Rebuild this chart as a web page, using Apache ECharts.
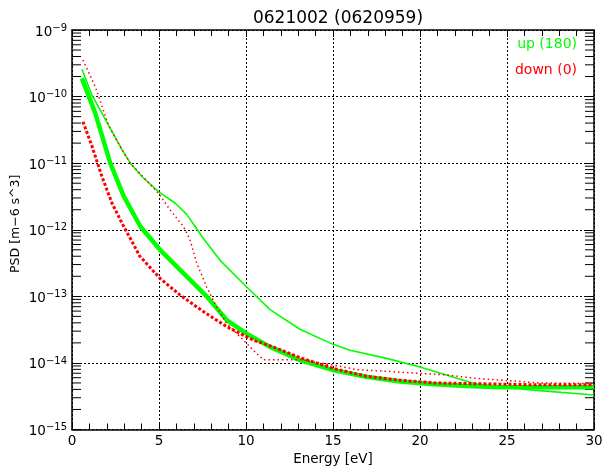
<!DOCTYPE html>
<html>
<head>
<meta charset="utf-8">
<script src="https://cdn.jsdelivr.net/npm/echarts@6/dist/echarts.min.js"></script>
<style>
  html, body { margin: 0; padding: 0; background: #fff; }
  #chart { width: 602px; height: 468px; }
</style>
</head>
<body>
<div id="chart"></div>
<script>
// Phase space density spectra, up (180) and down (0) directions
const titleText = '0621002 (0620959)';
const xName = 'Energy [eV]';
const yName = 'PSD [m\u22126 s^3]';
const upLabel = 'up (180)';
const downLabel = 'down (0)';

const xTicks = [0, 5, 10, 15, 20, 25, 30];
const yDecades = [-15, -14, -13, -12, -11, -10, -9];

// up (180), thick curve
const upThickE = [0.57, 1.34, 2.2, 2.97, 3.93, 5.06, 6.21, 7.74, 8.89, 10.04, 11.38, 13.1, 15.0, 16.9, 18.85, 20.8, 22.7, 24.6, 26.5, 30];
const upThickPsd = [1.88e-10, 5.6e-11, 1.0e-11, 3.2e-12, 1.12e-12, 5.0e-13, 2.5e-13, 1.0e-13, 4.4e-14, 2.75e-14, 1.74e-14, 1.1e-14, 7.8e-15, 6.2e-15, 5.25e-15, 4.8e-15, 4.5e-15, 4.3e-15, 4.3e-15, 4.3e-15];

// up (180), thin curve
const upThinE = [0.57, 1.15, 1.92, 2.87, 3.35, 4.02, 4.98, 5.94, 6.59, 7.1, 7.55, 8.5, 10.04, 11.38, 13.1, 15.0, 15.98, 18.08, 20.0, 23.26, 26.5, 30];
const upThinPsd = [2.57e-10, 1.05e-10, 4.5e-11, 1.6e-11, 1.0e-11, 6.3e-12, 3.7e-12, 2.5e-12, 1.7e-12, 1.1e-12, 7.4e-13, 3.5e-13, 1.38e-13, 6.3e-14, 3.2e-14, 1.9e-14, 1.55e-14, 1.17e-14, 8.7e-15, 4.8e-15, 3.9e-15, 3.3e-15];

// down (0), thick curve
const downThickE = [0.63, 1.15, 1.72, 2.3, 2.87, 3.9, 5.06, 6.2, 7.55, 8.89, 10.42, 11.76, 13.1, 15.0, 16.9, 18.85, 20.8, 22.7, 24.6, 26.5, 30];
const downThickPsd = [4.2e-11, 1.8e-11, 6.3e-12, 2.5e-12, 1.26e-12, 4.0e-13, 1.86e-13, 1.05e-13, 5.9e-14, 3.5e-14, 2.2e-14, 1.66e-14, 1.2e-14, 8.3e-15, 6.3e-15, 5.5e-15, 5.0e-15, 4.9e-15, 4.8e-15, 4.7e-15, 4.7e-15];

// down (0), thin curve
const downThinE = [0.63, 1.34, 2.1, 2.87, 3.35, 4.98, 5.63, 6.4, 6.78, 7.16, 7.74, 8.31, 8.89, 9.85, 10.42, 10.99, 13.1, 15.0, 16.4, 18.3, 21.5, 23.1, 26.9, 30];
const downThinPsd = [3.55e-10, 1.4e-10, 3.7e-11, 1.6e-11, 1.0e-11, 3.5e-12, 2.0e-12, 1.12e-12, 7.1e-13, 3.2e-13, 1.38e-13, 6.9e-14, 3.9e-14, 2.2e-14, 1.55e-14, 1.12e-14, 1.12e-14, 9.3e-15, 7.9e-15, 7.4e-15, 6.6e-15, 5.9e-15, 5.0e-15, 4.9e-15];

const GREEN = '#00ff00';
const RED = '#ff0000';
const FONT = 'DejaVu Sans';

const pairs = (xs, ys) => xs.map((x, i) => [x, ys[i]]);

const chart = echarts.init(document.getElementById('chart'), null, { renderer: 'canvas' });

const xMin = xTicks[0], xMax = xTicks[xTicks.length - 1];
const yMin = Math.pow(10, yDecades[0]), yMax = Math.pow(10, yDecades[yDecades.length - 1]);

// log minor ticks (2..9 within each decade) on the left and right frame
function minorTickRender(params, api) {
  const children = [];
  const len = 9;
  for (let d = yDecades[0]; d < yDecades[yDecades.length - 1]; d++) {
    for (let k = 2; k <= 9; k++) {
      const v = k * Math.pow(10, d);
      const pl = api.coord([xMin, v]);
      const pr = api.coord([xMax, v]);
      children.push({ type: 'line', shape: { x1: pl[0], y1: pl[1], x2: pl[0] + len, y2: pl[1] }, style: { stroke: '#000', lineWidth: 1 } });
      children.push({ type: 'line', shape: { x1: pr[0] - len, y1: pr[1], x2: pr[0], y2: pr[1] }, style: { stroke: '#000', lineWidth: 1 } });
    }
  }
  return { type: 'group', children: children };
}

const xAxisBase = {
  type: 'value',
  min: xMin,
  max: xMax,
  interval: 5,
  axisLine: { show: true, onZero: false, lineStyle: { color: '#000', width: 1.5 } },
  axisTick: { show: true, inside: true, length: 7, lineStyle: { color: '#000', width: 1 } },
  minorTick: { show: true, splitNumber: 5, length: 6, lineStyle: { color: '#000', width: 1 } },
  splitLine: { show: false }
};

const option = {
  animation: false,
  backgroundColor: '#fff',
  title: {
    text: titleText,
    left: 333,
    textAlign: 'center',
    top: 5,
    textStyle: { fontFamily: FONT, fontSize: 17, fontWeight: 'normal', color: '#000' }
  },
  grid: { left: 72, right: 8, top: 30, bottom: 38.5, containLabel: false, outerBoundsMode: 'none' },
  xAxis: [
    Object.assign({}, xAxisBase, {
      position: 'bottom',
      name: xName,
      nameLocation: 'middle',
      nameGap: 23,
      nameMoveOverlap: false,
      nameTextStyle: { fontFamily: FONT, fontSize: 13.5, color: '#000' },
      axisLabel: { show: true, fontFamily: FONT, fontSize: 13.5, color: '#000', margin: 5 },
      splitLine: { show: true, lineStyle: { color: '#000', type: [2, 2], width: 1 } }
    }),
    Object.assign({}, xAxisBase, {
      position: 'top',
      axisLabel: { show: false }
    })
  ],
  yAxis: [
    {
      type: 'log',
      logBase: 10,
      min: yMin,
      max: yMax,
      position: 'left',
      name: yName,
      nameLocation: 'middle',
      nameRotate: 90,
      nameGap: 50,
      nameMoveOverlap: false,
      nameTextStyle: { fontFamily: FONT, fontSize: 12.5, color: '#000', padding: [0, 0, 0, 12] },
      axisLine: { show: true, onZero: false, lineStyle: { color: '#000', width: 1.5 } },
      axisTick: { show: true, inside: true, length: 9, lineStyle: { color: '#000', width: 1 } },
      splitLine: { show: true, lineStyle: { color: '#000', type: [2, 2], width: 1 } },
      axisLabel: {
        show: true,
        margin: 5,
        formatter: function (v) {
          const e = Math.round(Math.log10(v));
          return '{b|10}{s|' + (e < 0 ? '\u2212' + (-e) : e) + '}';
        },
        rich: {
          b: { fontFamily: FONT, fontSize: 13.5, color: '#000', padding: [4, 0, 0, 0] },
          s: { fontFamily: FONT, fontSize: 10, color: '#000', padding: [0, 0, 4, 0] }
        }
      }
    },
    {
      type: 'log',
      logBase: 10,
      min: yMin,
      max: yMax,
      position: 'right',
      axisLine: { show: true, onZero: false, lineStyle: { color: '#000', width: 1.5 } },
      axisTick: { show: true, inside: true, length: 9, lineStyle: { color: '#000', width: 1 } },
      axisLabel: { show: false },
      splitLine: { show: false }
    }
  ],
  graphic: [
    {
      type: 'text', right: 25, top: 37,
      style: { text: upLabel, fill: GREEN, font: '14px "' + FONT + '"', textAlign: 'right' }
    },
    {
      type: 'text', right: 25, top: 63,
      style: { text: downLabel, fill: RED, font: '14px "' + FONT + '"', textAlign: 'right' }
    }
  ],
  series: [
    {
      type: 'custom',
      name: 'minorTicks',
      xAxisIndex: 0,
      yAxisIndex: 0,
      silent: true,
      clip: false,
      renderItem: minorTickRender,
      data: [[xMin, yMin]],
      z: 1
    },
    {
      type: 'line', name: 'upThin', data: pairs(upThinE, upThinPsd),
      showSymbol: false, symbol: 'none', smooth: false,
      lineStyle: { color: GREEN, width: 1.6 }, z: 3
    },
    {
      type: 'line', name: 'upThick', data: pairs(upThickE, upThickPsd),
      showSymbol: false, symbol: 'none', smooth: false,
      lineStyle: { color: GREEN, width: 4.5 }, z: 3
    },
    {
      type: 'line', name: 'downThin', data: pairs(downThinE, downThinPsd),
      showSymbol: false, symbol: 'none', smooth: false,
      lineStyle: { color: RED, width: 1.5, type: [1.5, 3] }, z: 4
    },
    {
      type: 'line', name: 'downThick', data: pairs(downThickE, downThickPsd),
      showSymbol: false, symbol: 'none', smooth: false,
      lineStyle: { color: RED, width: 3, type: [3, 2] }, z: 4
    }
  ]
};

chart.setOption(option);
</script>
</body>
</html>
